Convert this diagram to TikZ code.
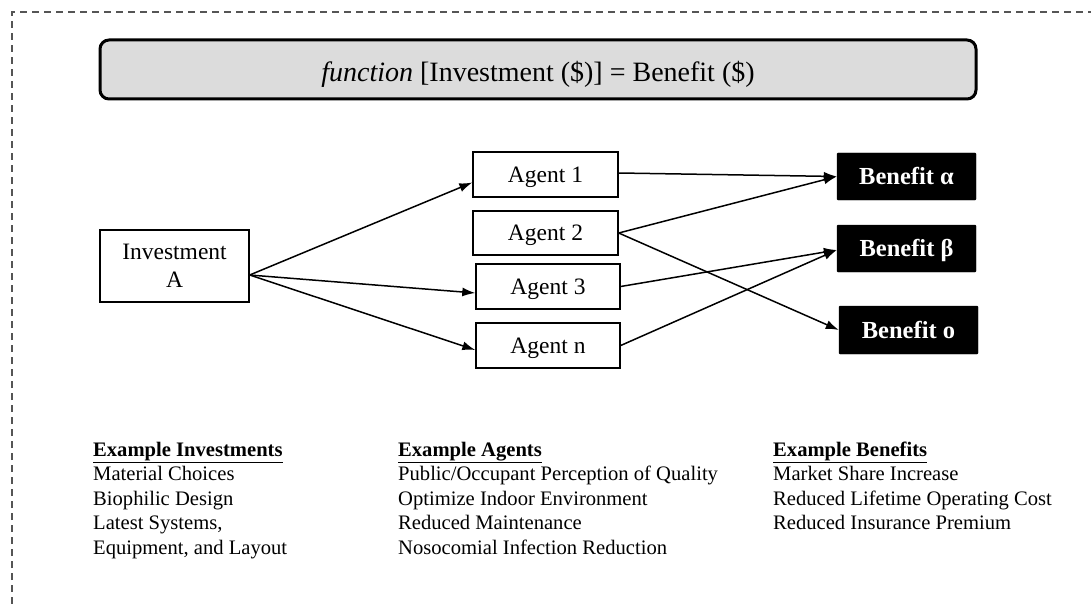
\documentclass[tikz,border=0pt]{standalone}
\usepackage{fontspec}
\setmainfont{Liberation Serif}
\usetikzlibrary{arrows.meta}
\definecolor{titlegray}{HTML}{DCDCDC}
\definecolor{bordergray}{HTML}{555555}
\tikzset{
  box/.style={draw=black, line width=1.4pt, fill=white, inner sep=0pt, align=center,
    font=\fontsize{23.5}{28}\selectfont},
  agentbox/.style={box, text height=15.5pt, text depth=0pt},
  benefitbox/.style={draw=black, fill=black, text=white, inner sep=0pt, rounded corners=1pt,
    text height=16pt, text depth=0pt, font=\fontsize{24.5}{28}\selectfont\bfseries},
  titlebox/.style={draw=black, line width=3pt, fill=titlegray, rounded corners=9pt, inner sep=0pt,
    text height=18.5pt, text depth=0pt, font=\fontsize{28}{32}\selectfont},
  link/.style={line width=1.5pt, -{Latex[length=13pt,width=9pt]}},
  listtext/.style={anchor=base west, inner sep=0pt,
    font=\fontsize{20.6}{24.5}\selectfont},
  frame/.style={draw=bordergray, line width=2pt, dash pattern=on 7pt off 5pt}
}
\begin{document}
\begin{tikzpicture}[x=1pt,y=-1pt]
\useasboundingbox (0,0) rectangle (1091,604);
\draw[frame] (12,640) -- (12,12) -- (1120,12);

\node[titlebox, minimum width=876pt, minimum height=59pt] (title) at (538,69.5)
  {\raisebox{-2.5pt}{\textit{function} [Investment (\$)] = Benefit (\$)}};

\node[box, minimum width=149pt, minimum height=72pt] (inv) at (174.5,266) {Investment\\A};

\node[agentbox, minimum width=145pt, minimum height=45pt] (a1) at (545.5,174.5) {Agent 1};
\node[agentbox, minimum width=145pt, minimum height=44pt] (a2) at (545.5,233) {Agent 2};
\node[agentbox, minimum width=144pt, minimum height=45pt] (a3) at (548,286.5) {Agent 3};
\node[agentbox, minimum width=144pt, minimum height=45pt] (an) at (548,345.5) {Agent n};

\node[benefitbox, minimum width=139pt, minimum height=47pt] (b1) at (906.5,176.5) {Benefit α};
\node[benefitbox, minimum width=139pt, minimum height=47pt] (b2) at (906.5,248.5) {Benefit β};
\node[benefitbox, minimum width=139pt, minimum height=48pt] (b3) at (908.5,330) {Benefit ο};

\coordinate (invout) at ([yshift=-9pt]inv.east);
\draw[link] (invout) -- ([yshift=-8pt]a1.west);
\draw[link] (invout) -- ([yshift=-6.5pt]a3.west);
\draw[link] (invout) -- ([yshift=-4.5pt]an.west);

\draw[link] ([yshift=1.5pt]a1.east) -- (b1.west);
\draw[link] (a2.east) -- (b1.west);
\draw[link] (a2.east) -- (b3.west);
\draw[link] (a3.east) -- ([yshift=-1.5pt]b2.west);
\draw[link] (an.east) -- ([yshift=-1.5pt]b2.west);

% Example investments
\node[listtext] (i0) at (93,456) {\underline{\textbf{Example Investments}}};
\node[listtext] (i1) at (93,480.5) {Material Choices};
\node[listtext] (i2) at (93,505) {Biophilic Design};
\node[listtext] (i3) at (93,529.5) {Latest Systems,};
\node[listtext] (i4) at (93,554) {Equipment, and Layout};
% Example agents
\node[listtext] (g0) at (398,456) {\underline{\textbf{Example Agents}}};
\node[listtext] (g1) at (398,480.5) {Public/Occupant Perception of Quality};
\node[listtext] (g2) at (398,505) {Optimize Indoor Environment};
\node[listtext] (g3) at (398,529.5) {Reduced Maintenance};
\node[listtext] (g4) at (398,554) {Nosocomial Infection Reduction};
% Example benefits
\node[listtext] (e0) at (773,456) {\underline{\textbf{Example Benefits}}};
\node[listtext] (e1) at (773,480.5) {Market Share Increase};
\node[listtext] (e2) at (773,505) {Reduced Lifetime Operating Cost};
\node[listtext] (e3) at (773,529.5) {Reduced Insurance Premium};
\end{tikzpicture}
\end{document}
